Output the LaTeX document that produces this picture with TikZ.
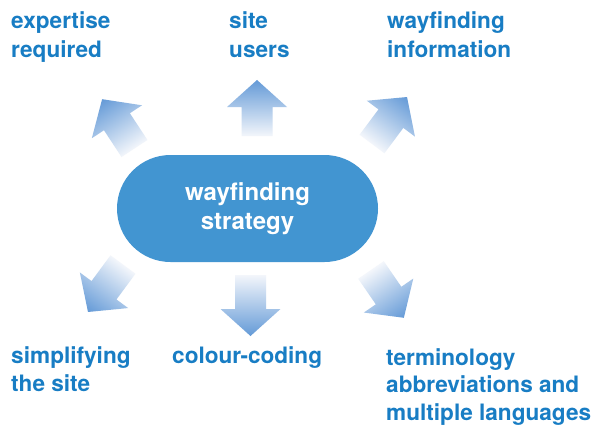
\documentclass[tikz,border=0pt]{standalone}
\usepackage{fontspec}
\setmainfont{TeX Gyre Heros}
\definecolor{lbl}{RGB}{24,125,196}
\definecolor{hub}{RGB}{66,149,209}
\definecolor{arrhead}{RGB}{100,154,215}
\definecolor{arrtail}{RGB}{243,246,251}
\newcommand\wfarrow[4]{%
  \begin{scope}[transform canvas={shift={(#1,#2)},rotate=#3}]
    \shade[left color=arrtail, right color=arrhead]
      (0,-15.5) -- (#4-27,-15.5) -- (#4-27,-30) -- (#4,0) -- (#4-27,30) -- (#4-27,15.5) -- (0,15.5) -- cycle;
  \end{scope}}
\begin{document}
\begin{tikzpicture}[x=1pt,y=-1pt,
  lab/.style={anchor=base west, inner sep=0pt, align=left, text=lbl,
    font=\bfseries\fontsize{22.6}{29}\selectfont},
  labb/.style={lab, font=\bfseries\fontsize{22.6}{27.5}\selectfont},
  hubbox/.style={rectangle, rounded corners=53.5pt, fill=hub, minimum width=261pt,
    minimum height=107pt, inner sep=0pt, align=center, text=white,
    font=\bfseries\fontsize{24}{29}\selectfont}]
\useasboundingbox (0,0) rectangle (593,425);
\fill[white] (0,0) rectangle (593,425);

\node[hubbox] (hub) at (247.5,208.5) {wayfinding\\strategy};

\wfarrow{134.5}{148.5}{123.3}{59}
\wfarrow{257}{136}{90}{56}
\wfarrow{372}{144}{53.3}{58.6}
\wfarrow{123}{264.5}{233.6}{59}
\wfarrow{250.5}{275}{270}{61}
\wfarrow{371}{270}{-55.5}{58}

% anchors at the baseline of the last line
\node[lab] (exp) at (11,58) {expertise\\required};
\node[lab] (users) at (229,58) {site\\users};
\node[lab] (info) at (387,58) {wayfinding\\information};
\node[labb] (simp) at (11,391) {simplifying\\the site};
\node[labb] (colour) at (172,363) {colour-coding};
\node[labb] (term) at (386,420) {terminology\\abbreviations and\\multiple languages};
\end{tikzpicture}
\end{document}
